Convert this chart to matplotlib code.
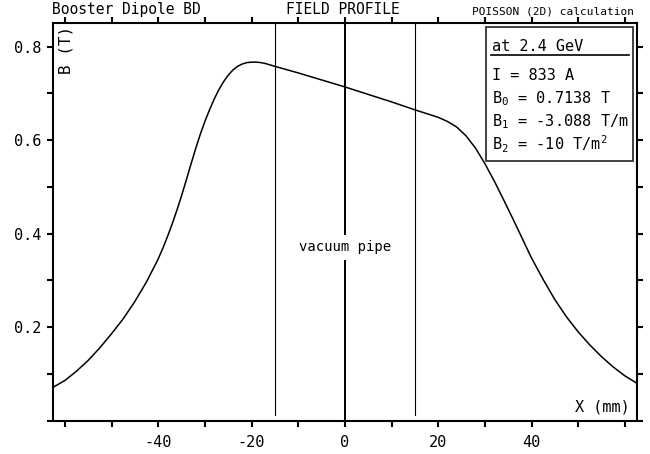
import matplotlib
matplotlib.use('Agg')
import matplotlib.pyplot as plt
from matplotlib.patches import Rectangle

# field profile (x in mm, B in T)
x_mm = [-62.6, -60, -57.5, -55, -52.5, -50, -47.5, -45, -42.5, -40, -39, -38, -37, -36, -35,
        -34, -33, -32, -31, -30, -29, -28, -27, -26, -25, -24, -23, -22, -21, -20, -19,
        -18, -17, -15, -10, -5, 0, 5, 10, 15, 17.5, 20, 22, 24, 26, 28, 30, 32, 34, 36,
        38, 40, 42.5, 45, 47.5, 50, 52.5, 55, 57.5, 60, 62.6]
b_tesla = [0.071, 0.086, 0.106, 0.129, 0.156, 0.186, 0.218, 0.255, 0.297, 0.346, 0.369,
           0.394, 0.421, 0.450, 0.481, 0.514, 0.548, 0.581, 0.612, 0.640, 0.665, 0.688,
           0.708, 0.725, 0.739, 0.750, 0.758, 0.763, 0.766, 0.767, 0.767, 0.766, 0.764,
           0.758, 0.744, 0.729, 0.714, 0.698, 0.682, 0.665, 0.657, 0.649, 0.640, 0.628,
           0.609, 0.583, 0.550, 0.513, 0.473, 0.432, 0.390, 0.348, 0.302, 0.259, 0.222,
           0.190, 0.162, 0.137, 0.115, 0.096, 0.080]

pipe_edges = [-15, 15]
info_lines = [r'I = 833 A',
              r'B$_\mathregular{0}$ = 0.7138 T',
              r'B$_\mathregular{1}$ = -3.088 T/m',
              r'B$_\mathregular{2}$ = -10 T/m$^\mathregular{2}$']

x_major = [-40, -20, 0, 20, 40]
x_minor = [-60, -50, -30, -10, 10, 30, 50, 60]
y_major = [0.2, 0.4, 0.6, 0.8]
y_minor = [0.0, 0.1, 0.3, 0.5, 0.7]

plt.rcParams['font.family'] = 'DejaVu Sans Mono'

fig = plt.figure(figsize=(6.5, 4.54), dpi=100)
ax = fig.add_axes([0.0811, 0.0733, 0.8989, 0.8753])

ax.plot(x_mm, b_tesla, color='black', lw=1.1, solid_joinstyle='round')

# vacuum pipe walls and centre line
for xe in pipe_edges:
    ax.plot([xe, xe], [0.012, 0.85], color='black', lw=0.8)
ax.plot([0, 0], [0, 0.85], color='black', lw=1.4)
ax.text(0, 0.371, 'vacuum pipe', ha='center', va='center', fontsize=10,
        bbox=dict(facecolor='white', edgecolor='none', pad=4))

ax.set_xlim(-62.6, 62.6)
ax.set_ylim(0, 0.85)
ax.set_xticks(x_major)
ax.set_xticks(x_minor, minor=True)
ax.set_yticks(y_major)
ax.set_yticks(y_minor, minor=True)
ax.set_xticklabels(['-40', '-20', '0', '20', '40'])
ax.set_yticklabels(['0.2', '0.4', '0.6', '0.8'])
ax.tick_params(which='both', direction='out', length=4, width=1.5,
               top=True, right=True, labelsize=11)
ax.tick_params(axis='x', pad=6)
ax.tick_params(axis='y', pad=4)
for s in ax.spines.values():
    s.set_linewidth(1.5)

ax.text(0.0228, 0.933, 'B (T)', rotation=90, ha='center', va='center',
        fontsize=11.5, transform=ax.transAxes)
ax.text(0.988, 0.035, 'X (mm)', ha='right', va='center', fontsize=11,
        transform=ax.transAxes)

# parameter box
ax.add_patch(Rectangle((0.741, 0.654), 0.2526, 0.336, transform=ax.transAxes,
                       facecolor='white', edgecolor='#333333', lw=1.3, zorder=3))
ax.plot([0.7496, 0.9863], [0.920, 0.920], color='black', lw=1.2,
        transform=ax.transAxes, zorder=4)
ax.text(0.7513, 0.931, 'at 2.4 GeV', ha='left', va='baseline', fontsize=11,
        transform=ax.transAxes, zorder=4)
for i, line in enumerate(info_lines):
    ax.text(0.7513, 0.8574 - i * 0.0587, line, ha='left', va='baseline',
            fontsize=11, transform=ax.transAxes, zorder=4)

fig.text(0.080, 0.978, 'Booster Dipole BD', ha='left', va='center', fontsize=10.5)
fig.text(0.528, 0.978, 'FIELD PROFILE', ha='center', va='center', fontsize=10.5)
fig.text(0.976, 0.975, 'POISSON (2D) calculation', ha='right', va='center', fontsize=8)

fig.savefig('out.png', dpi=100)
